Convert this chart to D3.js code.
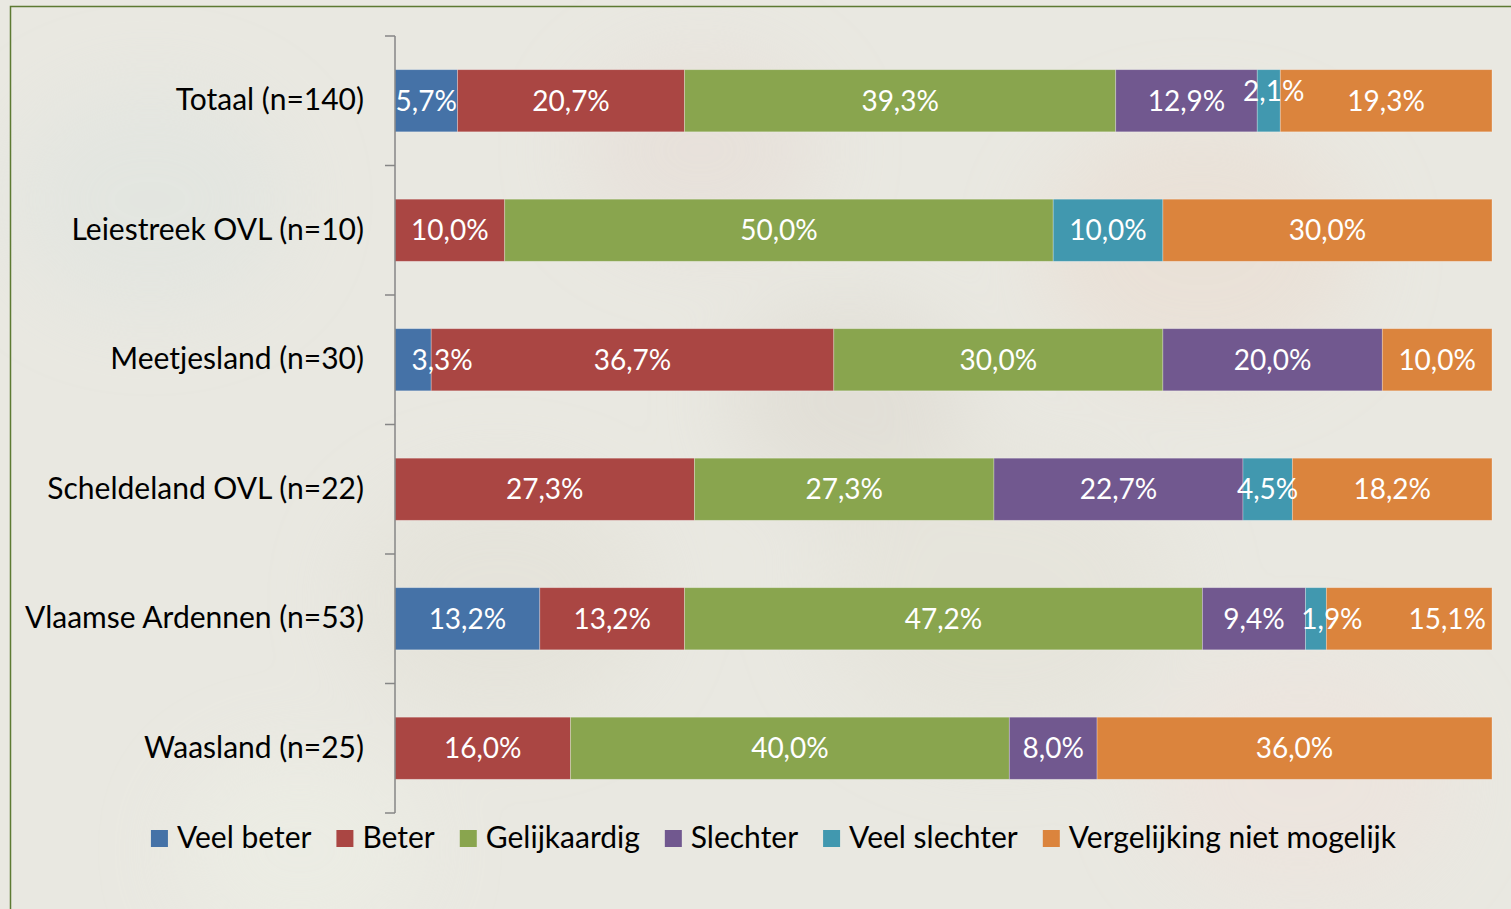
<!DOCTYPE html>
<html><head><meta charset="utf-8">
<script src="https://cdn.jsdelivr.net/npm/d3@7"></script>
<style>
html,body{margin:0;padding:0;background:#ecebe4;}
svg{display:block;}
text{font-family:Lato,"Open Sans",sans-serif;}
</style></head>
<body><svg id="c" width="1511" height="909"></svg>
<script>
const categories = ["Totaal (n=140)","Leiestreek OVL (n=10)","Meetjesland (n=30)","Scheldeland OVL (n=22)","Vlaamse Ardennen (n=53)","Waasland (n=25)"];
const seriesNames = ["Veel beter","Beter","Gelijkaardig","Slechter","Veel slechter","Vergelijking niet mogelijk"];
const veelBeter    = [5.7, 0,    3.3,  0,    13.2, 0];
const beter        = [20.7,10.0, 36.7, 27.3, 13.2, 16.0];
const gelijkaardig = [39.3,50.0, 30.0, 27.3, 47.2, 40.0];
const slechter     = [12.9,0,    20.0, 22.7, 9.4,  8.0];
const veelSlechter = [2.1, 10.0, 0,    4.5,  1.9,  0];
const vergelijking = [19.3,30.0, 10.0, 18.2, 15.1, 36.0];
const seriesValues = [veelBeter, beter, gelijkaardig, slechter, veelSlechter, vergelijking];
const colors = ["#4572A7","#AA4643","#89A54E","#71588F","#4198AF","#DB843D"];
// manual label nudges (as in the original chart): key "row-series"
const labelNudge = {"0-4":[5,-10],"2-0":[29,0],"4-4":[16,0],"4-5":[38,0]};

const svg = d3.select("#c");
const defs = svg.append("defs");
const f = defs.append("filter").attr("id","blur").attr("x","-50%").attr("y","-50%").attr("width","200%").attr("height","200%");
f.append("feGaussianBlur").attr("stdDeviation",40);
svg.append("rect").attr("width",1511).attr("height",909).attr("fill","#e9e8e1");
const blobs = svg.append("g").attr("filter","url(#blur)").attr("opacity",0.55);
[[150,200,140,"#dfe4e0"],[700,150,120,"#e6dcd6"],[1200,250,160,"#eadcd0"],[500,600,150,"#e2e0d6"],[1000,600,180,"#e4e2d8"],[300,850,120,"#eef0e6"],[1300,780,150,"#efe2dc"],[850,400,120,"#dcd8cf"]]
  .forEach(b=>blobs.append("ellipse").attr("cx",b[0]).attr("cy",b[1]).attr("rx",b[2]).attr("ry",b[2]*0.8).attr("fill",b[3]));
svg.append("rect").attr("x",10.5).attr("y",6.5).attr("width",1520).attr("height",920)
  .attr("fill","none").attr("stroke","#5d7a32").attr("stroke-width",1.5);

const x0 = 395, x1 = 1492, yTop = 36, yBot = 813;
const x = d3.scaleLinear().domain([0,100]).range([x0,x1]);
const y = d3.scaleBand().domain(categories).range([yTop,yBot]).paddingInner(0.52).paddingOuter(0.26);

const stackData = categories.map((c,i)=>{const o={cat:c}; seriesNames.forEach((s,j)=>o[s]=seriesValues[j][i]); return o;});
const stack = d3.stack().keys(seriesNames)(stackData);

const g = svg.append("g");
stack.forEach((layer,j)=>{
  layer.forEach((d,i)=>{
    const v = d[1]-d[0];
    if(v<=0) return;
    g.append("rect").attr("x",x(d[0])).attr("y",y(categories[i]))
      .attr("width",x(d[1])-x(d[0])).attr("height",y.bandwidth())
      .attr("fill",colors[j]).attr("stroke","rgba(255,255,255,0.35)").attr("stroke-width",0.8);
  });
});
stack.forEach((layer,j)=>{
  layer.forEach((d,i)=>{
    const v = d[1]-d[0];
    if(v<=0) return;
    const n = labelNudge[i+"-"+j]||[0,0];
    g.append("text").attr("x",(x(d[0])+x(d[1]))/2+n[0]).attr("y",y(categories[i])+y.bandwidth()/2+n[1])
      .attr("dy","0.36em").attr("text-anchor","middle").attr("fill","#fff").attr("font-size",28)
      .text(v.toFixed(1).replace(".",",")+"%");
  });
});

const axis = svg.append("g").attr("transform",`translate(${x0},0)`)
  .call(d3.axisLeft(y).tickSize(0).tickPadding(31));
axis.select(".domain").remove();
axis.selectAll("text").attr("font-size",30).attr("fill","#000").style("font-family","Lato,sans-serif");
const ticksY = [yTop].concat(categories.map(c=>y(c)+y.bandwidth()/2+y.step()/2));
svg.append("line").attr("x1",x0).attr("x2",x0).attr("y1",yTop).attr("y2",yBot).attr("stroke","#868686").attr("stroke-width",1.5);
svg.selectAll(".tk").data(ticksY).enter().append("line").attr("x1",x0-10).attr("x2",x0)
  .attr("y1",d=>d).attr("y2",d=>d).attr("stroke","#868686").attr("stroke-width",1.5);

const lg = svg.append("g");
let cx = 0;
seriesNames.forEach((s,j)=>{
  const it = lg.append("g").attr("transform",`translate(${cx},0)`);
  it.append("rect").attr("x",0).attr("y",-18).attr("width",17).attr("height",17).attr("fill",colors[j]);
  const t = it.append("text").attr("x",26).attr("y",0).attr("font-size",30).attr("fill","#000").text(s);
  const w = t.node().getComputedTextLength();
  cx += 26 + w + 25;
});
const totalW = cx - 25;
lg.attr("transform",`translate(${(157+1390)/2 - totalW/2},848)`);
</script></body></html>
